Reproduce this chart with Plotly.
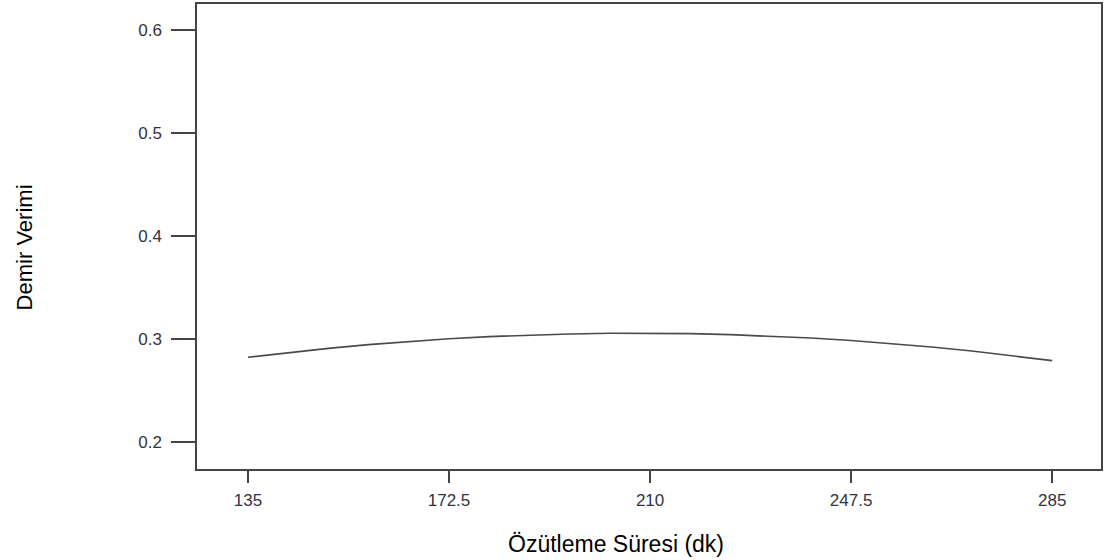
import plotly.graph_objects as go

# Extraction time (min) and predicted iron yield
sure = [135, 142.5, 150, 157.5, 165, 172.5, 180, 187.5, 195, 202.5, 210,
        217.5, 225, 232.5, 240, 247.5, 255, 262.5, 270, 277.5, 285]
verim = [0.2822, 0.2868, 0.2908, 0.2944, 0.2975, 0.3001, 0.3022, 0.3037, 0.3048, 0.3054, 0.3055,
         0.3051, 0.3041, 0.3027, 0.3008, 0.2984, 0.2955, 0.2921, 0.2882, 0.2838, 0.2789]

x_ticks = [135, 172.5, 210, 247.5, 285]
x_tick_labels = ["135", "172.5", "210", "247.5", "285"]
y_ticks = [0.2, 0.3, 0.4, 0.5, 0.6]
y_tick_labels = ["0.2", "0.3", "0.4", "0.5", "0.6"]

x_title = "Özütleme Süresi (dk)"
y_title = "Demir Verimi"

W, H = 1104, 560
ml, mr, mt, mb = 197, 1, 4, 91
pw, ph = W - ml - mr, H - mt - mb

fig = go.Figure()
fig.add_trace(go.Scatter(x=sure, y=verim, mode="lines",
                         line=dict(color="#4a4a4a", width=1.6),
                         hoverinfo="x+y", showlegend=False))

axis_common = dict(showline=True, mirror=True, linecolor="#444444", linewidth=1.5,
                   showgrid=False, zeroline=False, ticks="outside",
                   tickcolor="#444444", tickwidth=1.5,
                   tickfont=dict(family="Liberation Sans, Arial", size=17, color="#333340"))

fig.update_layout(
    width=W, height=H,
    margin=dict(l=ml, r=mr, t=mt, b=mb),
    paper_bgcolor="white", plot_bgcolor="white",
    xaxis=dict(range=[125.5, 294.1], tickvals=x_ticks, ticktext=x_tick_labels,
               ticklen=12, ticklabelstandoff=3, **axis_common),
    yaxis=dict(range=[0.1738, 0.6248], tickvals=y_ticks, ticktext=y_tick_labels,
               ticklen=24, ticklabelstandoff=6, **axis_common),
    annotations=[
        dict(text=x_title, xref="paper", yref="paper",
             x=(617 - ml) / pw, y=(H - mb - 544) / ph,
             xanchor="center", yanchor="middle", showarrow=False,
             font=dict(family="Liberation Sans, Arial", size=23, color="black")),
        dict(text=y_title, xref="paper", yref="paper",
             x=(24 - ml) / pw, y=(H - mb - 247) / ph, textangle=-90,
             xanchor="center", yanchor="middle", showarrow=False,
             font=dict(family="Liberation Sans, Arial", size=22, color="black")),
    ],
)

fig.write_html("out.html", config={"displayModeBar": False},
               post_script="document.body.style.margin='0';document.body.style.padding='0';")
